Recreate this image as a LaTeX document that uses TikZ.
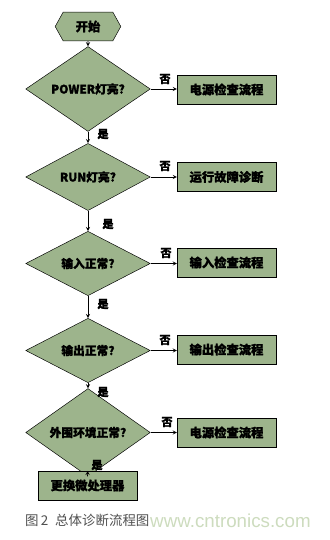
\documentclass[tikz,border=0pt]{standalone}
\usepackage{fontspec}
\usepackage{tikz}
\usetikzlibrary{shapes.geometric,shapes.symbols,positioning}
\newfontfamily\cjk[FakeBold=1.2]{Noto Sans CJK SC}
\newfontfamily\cjkcap{Noto Sans CJK SC}
\newfontfamily\wmark{Liberation Sans}
\definecolor{fcgreen}{RGB}{157,180,140}
\definecolor{fcgrey}{RGB}{80,80,80}
\definecolor{fcmark}{RGB}{205,220,190}
\tikzset{
 fc start/.style={shape=signal,signal to=west and east,signal pointer angle=122,
                  draw=black,fill=fcgreen,minimum width=56pt,minimum height=24.7pt,
                  inner sep=0pt,font=\cjk\fontsize{10.5}{12}\selectfont\bfseries},
 fc test/.style={diamond,draw=black,fill=fcgreen,minimum width=106.3pt,minimum height=49.3pt,
                 inner sep=0pt,font=\cjk\fontsize{10}{12}\selectfont\bfseries},
 fc box/.style={rectangle,draw=black,fill=fcgreen,minimum width=84.2pt,minimum height=24.7pt,
                inner sep=0pt,font=\cjk\fontsize{10.5}{12}\selectfont\bfseries},
 fc line/.style={->,>=stealth,line width=.6pt},
 fc label/.style={font=\cjk\fontsize{9.5}{11}\selectfont\bfseries,inner sep=0pt}
}
\begin{document}
\begin{tikzpicture}[x=0.03cm,y=-0.03cm]
 \useasboundingbox[fill=white] (0,0) rectangle (329,540);

 \node[fc start] (start) at (88,26.5) {开始};
 \node[fc test] (t1) at (88,89) {POWER灯亮?};
 \node[fc test] (t2) at (88,177) {RUN灯亮?};
 \node[fc test] (t3) at (88,263.5) {输入正常?};
 \node[fc test] (t4) at (88,350.5) {输出正常?};
 \node[fc test] (t5) at (88,432.5) {外围环境正常?};
 \node[fc box] (b1) at (226.5,89.5) {电源检查流程};
 \node[fc box] (b2) at (226.5,177) {运行故障诊断};
 \node[fc box] (b3) at (226.5,262.5) {输入检查流程};
 \node[fc box] (b4) at (226.5,349.5) {输出检查流程};
 \node[fc box] (b5) at (226.5,432.5) {电源检查流程};
 \node[fc box] (b6) at (87.5,485.5) {更换微处理器};

 \draw[fc line] (start)--(t1);
 \draw[fc line] (t1)--(t2);
 \draw[fc line] (t2)--(t3);
 \draw[fc line] (t3)--(t4);
 \draw[fc line] (t4)--(t5);
 \draw[fc line] (t5)--(b6);
 \foreach \i in {1,...,5} \draw[fc line] (t\i.east)--(b\i.west |- t\i.east);

 \node[fc label] (no1) at (165,79) {否};
 \node[fc label] (no2) at (165,166) {否};
 \node[fc label] (no3) at (166,253) {否};
 \node[fc label] (no4) at (165,340) {否};
 \node[fc label] (no5) at (167,422) {否};
 \node[fc label] (yes1) at (103,134) {是};
 \node[fc label] (yes2) at (108,224) {是};
 \node[fc label] (yes3) at (103,304) {是};
 \node[fc label] (yes4) at (103,392) {是};
 \node[fc label] (yes5) at (97,465) {是};

 \node[anchor=west,text=fcgrey,inner sep=0pt,font=\cjkcap\fontsize{11.5}{14}\selectfont]
   (caption) at (25,520) {图\,2\enspace 总体诊断流程图};
 \node[anchor=west,text=fcmark,inner sep=0pt,font=\wmark\fontsize{16}{18}\selectfont]
   (mark) at (150,521) {www.cntronics.com};
\end{tikzpicture}
\end{document}
